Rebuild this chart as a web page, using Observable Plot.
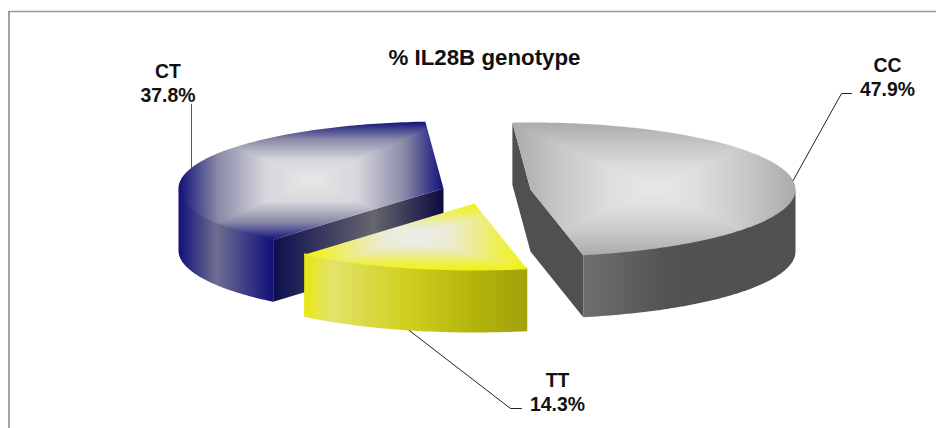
<!DOCTYPE html>
<html>
<head>
<meta charset="utf-8">
<script src="https://cdn.jsdelivr.net/npm/d3@7"></script>
<script src="https://cdn.jsdelivr.net/npm/@observablehq/plot@0.6"></script>
<style>html,body{margin:0;padding:0;background:#fff}svg{display:block}</style>
</head>
<body>
<div id="chart"></div>
<script>
const genotypes = ["CT", "CC", "TT"];
const shares = [37.8, 47.9, 14.3];
const chartTitle = "% IL28B genotype";

const W = 936, H = 428;
const deg = Math.PI / 180;
const rx = 265, ry = 67, depth = 62;
const centers = {CT: [443, 188], CC: [530, 189], TT: [474, 203]};
const labelPos = {CT: [167.5, 82], CC: [887, 76], TT: [557, 391]};
const elbows = {CT: [[null, 104]], CC: [[841, 93], [851, 93]], TT: [[510, 408], [521, 408]]};

const arcs = d3.pie().sort(null).startAngle(-140 * deg).endAngle(220 * deg)(shares);
const slices = Object.fromEntries(genotypes.map((g, i) => [g, {name: g, value: shares[i], a0: arcs[i].startAngle, a1: arcs[i].endAngle, c: centers[g]}]));

const pt = (c, a, dz = 0) => ({x: c[0] + rx * Math.sin(a), y: c[1] - ry * Math.cos(a) + dz});
const arcPts = (c, a0, a1, dz = 0) => {
  const n = Math.max(2, Math.ceil(Math.abs(a1 - a0) / deg));
  return d3.range(n + 1).map(i => pt(c, a0 + (a1 - a0) * i / n, dz));
};
const cpt = (c, dz = 0) => ({x: c[0], y: c[1] + dz});

const topShape = s => [cpt(s.c), ...arcPts(s.c, s.a0, s.a1)];
const rimShape = (s, a0, a1) => [...arcPts(s.c, a0, a1, -1.5), ...arcPts(s.c, a1, a0, depth)];
const sideShape = (s, a) => { const p = pt(s.c, a), q = pt(s.c, a, depth); return [cpt(s.c), p, q, cpt(s.c, depth)]; };
const innerWall = s => [pt(s.c, s.a0), cpt(s.c), pt(s.c, s.a1), pt(s.c, s.a1, depth), cpt(s.c, depth), pt(s.c, s.a0, depth)];

const shape = (pts, fill, extra = {}) => Plot.line(pts, {x: "x", y: "y", fill, stroke: "none", ...extra});

function linear(defs, id, stops) {
  const g = defs.append("linearGradient").attr("id", id).attr("x1", 0).attr("x2", 1).attr("y1", 0).attr("y2", 0);
  for (const [o, c] of stops) g.append("stop").attr("offset", o).attr("stop-color", c);
}
function rectGradient(defs, id, stops) {
  const dirs = {t: [0, 0, 0, .5], b: [0, 1, 0, .5], l: [0, 0, .5, 0], r: [1, 0, .5, 0]};
  for (const k in dirs) {
    const [x1, y1, x2, y2] = dirs[k];
    const g = defs.append("linearGradient").attr("id", id + k).attr("gradientUnits", "userSpaceOnUse")
      .attr("x1", x1).attr("y1", y1).attr("x2", x2).attr("y2", y2);
    for (const [o, c] of stops) g.append("stop").attr("offset", o).attr("stop-color", c);
  }
  const p = defs.append("pattern").attr("id", id).attr("width", 1).attr("height", 1)
    .attr("patternContentUnits", "objectBoundingBox");
  // top and bottom overlap a little under left and right, which hides the seams
  const e = 0.03;
  const tris = [
    ["t", `0,0 1,0 1,${e} .5,${.5 + e} 0,${e}`],
    ["b", `0,1 1,1 1,${1 - e} .5,${.5 - e} 0,${1 - e}`],
    ["l", "0,0 0,1 .5,.5"],
    ["r", "1,0 1,1 .5,.5"]
  ];
  for (const [k, pts] of tris) p.append("polygon").attr("points", pts).attr("fill", `url(#${id}${k})`);
}
function gradients() {
  const svg = d3.create("svg:g");
  const defs = svg.append("defs");
  rectGradient(defs, "ctTop", [[0, "#10107a"], [0.3, "#8a8aa8"], [0.65, "#d6d6dc"], [1, "#e8e8e8"]]);
  rectGradient(defs, "ccTop", [[0, "#ababab"], [0.35, "#c8c8c8"], [0.7, "#dedede"], [1, "#e8e8e8"]]);
  rectGradient(defs, "ttTop", [[0, "#f2f210"], [0.3, "#eeee60"], [0.5, "#ececa0"], [0.72, "#ebebd8"], [1, "#ececec"]]);
  linear(defs, "ctRim", [[0, "#10107a"], [0.4, "#6e6e92"], [1, "#10107a"]]);
  linear(defs, "ctSide", [[0, "#0e0e50"], [0.59, "#66666e"], [1, "#0a0a40"]]);
  linear(defs, "ccRim", [[0, "#6f6f6f"], [0.4, "#525252"], [1, "#505050"]]);
  linear(defs, "ttRim", [[0, "#e8e810"], [0.12, "#e3e36c"], [0.45, "#d0d020"], [0.75, "#b4b40c"], [1, "#a2a20c"]]);
  return svg.node();
}

const {CT, CC, TT} = slices;
const leader = s => {
  const mid = (s.a0 + s.a1) / 2;
  const start = pt(s.c, mid, s.name === "TT" ? depth : 0);
  return [start, ...elbows[s.name].map(([x, y]) => ({x: x ?? start.x, y}))];
};
const labels = genotypes.map(g => ({text: `${g}\n${slices[g].value.toFixed(1)}%`, x: labelPos[g][0], y: labelPos[g][1]}));

const chart = Plot.plot({
  width: W, height: H,
  margin: 0,
  x: {domain: [0, W], range: [0, W], axis: null},
  y: {domain: [0, H], range: [0, H], axis: null},
  style: {background: "#fff"},
  marks: [
    gradients,
    Plot.ruleX([8.5], {y1: 11, y2: H, stroke: "#444", strokeWidth: 1}),
    Plot.ruleY([11], {x1: 8, x2: W, stroke: "#999", strokeWidth: 1.5}),
    // CT
    shape(rimShape(CT, CT.a0, -90 * deg), "url(#ctRim)"),
    shape(sideShape(CT, CT.a0), "url(#ctSide)"),
    shape(topShape(CT), "url(#ctTop)"),
    // CC
    shape(innerWall(CC), "#505050"),
    shape(rimShape(CC, 90 * deg, CC.a1), "url(#ccRim)"),
    shape(topShape(CC), "url(#ccTop)"),
    // TT
    shape(rimShape(TT, TT.a0, TT.a1), "url(#ttRim)"),
    shape(topShape(TT), "url(#ttTop)"),
    // leaders
    ...[CT, CC, TT].map(s => Plot.line(leader(s), {x: "x", y: "y", stroke: s === CT ? "#555" : "#222", strokeWidth: 1})),
    // text
    Plot.text([chartTitle], {x: [484], y: [57], text: d => d, fontFamily: "Liberation Sans", fontWeight: "bold", fontSize: 22.3, fill: "#111"}),
    Plot.text(labels, {x: "x", y: "y", text: "text", lineHeight: 1.2, lineAnchor: "middle", textAnchor: "middle", fontFamily: "Liberation Sans", fontWeight: "bold", fontSize: 19.4, fill: "#111"})
  ]
});
document.getElementById("chart").appendChild(chart);
</script>
</body>
</html>
